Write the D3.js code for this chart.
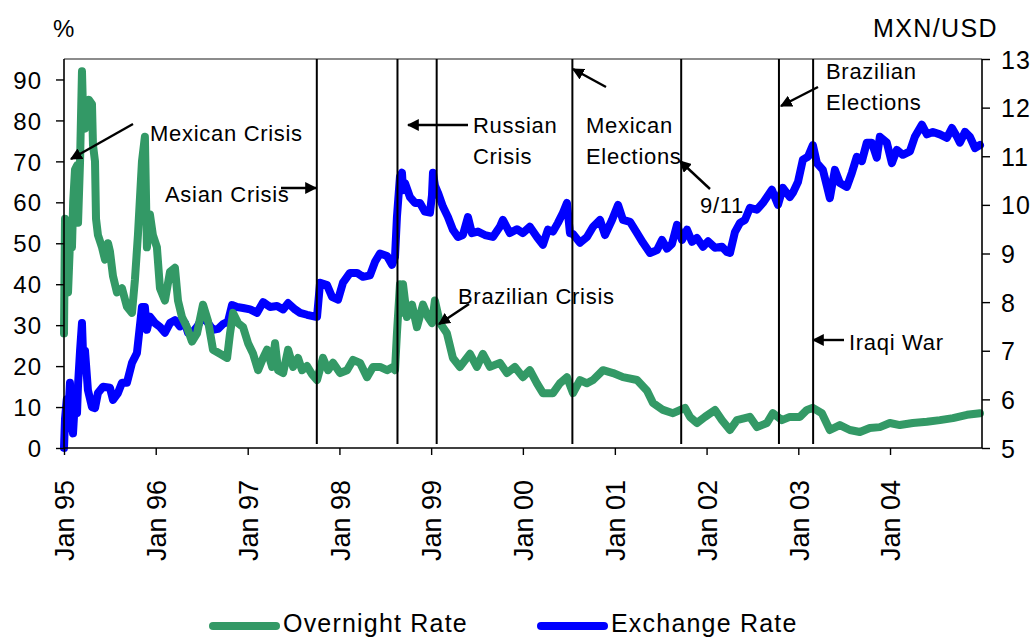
<!DOCTYPE html>
<html><head><meta charset="utf-8">
<script src="https://cdn.jsdelivr.net/npm/d3@7"></script>
<style>
html,body{margin:0;padding:0;background:#fff;}
svg{display:block;font-family:"Liberation Sans",Arial,sans-serif;}
</style></head>
<body><svg id="c" width="1034" height="639"></svg>
<script>
// ---- data (time as decimal year, value) ----
const overnightRate = [
[1995.000,28],[1995.011,56],[1995.030,45],[1995.044,38],[1995.065,50],[1995.087,49],[1995.100,60],[1995.120,68],[1995.142,69],[1995.153,55],[1995.175,70],[1995.196,92],[1995.210,80],[1995.229,78],[1995.250,83],[1995.272,85],[1995.305,84],[1995.316,74],[1995.338,70],[1995.349,56],[1995.370,52],[1995.414,49],[1995.447,46],[1995.480,50],[1995.501,48],[1995.534,42],[1995.577,38],[1995.632,39],[1995.686,34.5],[1995.741,33],[1995.773,41],[1995.806,52],[1995.850,70],[1995.882,76],[1995.904,49],[1995.937,57],[1995.969,52],[1996.013,49],[1996.046,39],[1996.100,36],[1996.155,43],[1996.209,44],[1996.242,36],[1996.285,32],[1996.340,29.5],[1996.394,26],[1996.449,28],[1996.514,35],[1996.569,31],[1996.623,24],[1996.699,23],[1996.776,22],[1996.808,28],[1996.841,33],[1996.895,30.5],[1996.950,29.5],[1997.004,25.6],[1997.059,23],[1997.113,19],[1997.168,22],[1997.211,24],[1997.266,19.8],[1997.298,25.6],[1997.331,19],[1997.386,18.3],[1997.440,24],[1997.495,19.8],[1997.549,22],[1997.593,19],[1997.647,20],[1997.702,18],[1997.756,16.6],[1997.821,22],[1997.876,19],[1997.930,20.8],[1998.007,18.3],[1998.083,19],[1998.148,21.5],[1998.224,20.8],[1998.301,17.3],[1998.366,19.8],[1998.442,19.8],[1998.519,19],[1998.584,19.8],[1998.606,19],[1998.627,28],[1998.660,40],[1998.682,33],[1998.693,40],[1998.736,32],[1998.791,35],[1998.845,29.5],[1998.911,35],[1998.965,32],[1999.009,30.5],[1999.041,36],[1999.096,30.5],[1999.172,28],[1999.237,22],[1999.314,19.8],[1999.423,23],[1999.499,19.8],[1999.564,23],[1999.641,19.8],[1999.749,20.8],[1999.826,18.3],[1999.913,19.8],[2000.000,17.3],[2000.076,19],[2000.153,15.8],[2000.218,13.4],[2000.327,13.4],[2000.403,15.8],[2000.479,17.3],[2000.545,13.4],[2000.621,16.6],[2000.697,15.8],[2000.763,16.6],[2000.839,18.3],[2000.871,19],[2000.980,18.3],[2001.089,17.3],[2001.242,16.6],[2001.351,14],[2001.416,11],[2001.525,9.3],[2001.634,8.5],[2001.765,9.8],[2001.819,7.6],[2001.895,6.1],[2001.983,7.6],[2002.092,9.3],[2002.168,6.8],[2002.255,4.4],[2002.331,6.8],[2002.473,7.6],[2002.549,5.1],[2002.658,6.1],[2002.723,8.5],[2002.821,6.8],[2002.908,7.6],[2003.017,7.6],[2003.094,9.3],[2003.159,9.8],[2003.257,8.5],[2003.344,4.4],[2003.453,5.6],[2003.562,4.4],[2003.671,3.9],[2003.780,4.9],[2003.889,5.1],[2003.998,6.1],[2004.107,5.6],[2004.248,6.1],[2004.401,6.4],[2004.542,6.8],[2004.684,7.3],[2004.837,8.1],[2004.978,8.5]
];
const exchangeRate = [
[1995.000,5.0],[1995.011,5.6],[1995.030,6.0],[1995.044,5.58],[1995.065,6.34],[1995.080,5.5],[1995.098,5.3],[1995.120,6.0],[1995.142,5.72],[1995.153,6.3],[1995.175,7.0],[1995.196,7.57],[1995.210,6.8],[1995.229,7.0],[1995.261,6.19],[1995.305,5.84],[1995.338,5.82],[1995.370,6.13],[1995.425,6.26],[1995.501,6.24],[1995.534,5.99],[1995.588,6.13],[1995.632,6.34],[1995.686,6.34],[1995.741,6.75],[1995.795,6.95],[1995.850,7.9],[1995.882,7.9],[1995.904,7.43],[1995.937,7.7],[1995.991,7.57],[1996.046,7.49],[1996.100,7.37],[1996.155,7.57],[1996.209,7.63],[1996.264,7.5],[1996.318,7.57],[1996.351,7.37],[1996.394,7.37],[1996.449,7.49],[1996.514,7.7],[1996.569,7.57],[1996.623,7.43],[1996.678,7.45],[1996.732,7.55],[1996.786,7.6],[1996.830,7.94],[1996.885,7.9],[1996.950,7.88],[1997.026,7.85],[1997.102,7.78],[1997.168,8.0],[1997.244,7.9],[1997.320,7.92],[1997.386,7.85],[1997.440,7.98],[1997.516,7.85],[1997.571,7.78],[1997.647,7.74],[1997.734,7.7],[1997.756,7.7],[1997.789,8.4],[1997.865,8.35],[1997.919,8.11],[1997.985,8.05],[1998.039,8.4],[1998.115,8.6],[1998.192,8.6],[1998.257,8.52],[1998.333,8.55],[1998.388,8.83],[1998.442,9.0],[1998.519,8.95],[1998.573,8.77],[1998.606,8.93],[1998.627,9.75],[1998.660,10.58],[1998.682,10.66],[1998.693,10.3],[1998.715,10.45],[1998.769,10.16],[1998.824,10.04],[1998.878,10.04],[1998.932,9.86],[1998.987,9.84],[1999.009,10.2],[1999.020,10.66],[1999.041,10.4],[1999.074,10.25],[1999.129,9.96],[1999.183,9.75],[1999.237,9.49],[1999.292,9.34],[1999.346,9.38],[1999.401,9.75],[1999.444,9.42],[1999.510,9.45],[1999.586,9.38],[1999.673,9.34],[1999.749,9.55],[1999.782,9.69],[1999.858,9.42],[1999.935,9.5],[2000.000,9.42],[2000.076,9.55],[2000.153,9.34],[2000.218,9.18],[2000.272,9.49],[2000.327,9.45],[2000.381,9.63],[2000.436,9.84],[2000.479,10.04],[2000.512,9.42],[2000.545,9.4],[2000.621,9.22],[2000.697,9.34],[2000.763,9.55],[2000.839,9.69],[2000.893,9.38],[2000.969,9.69],[2001.035,10.0],[2001.089,9.69],[2001.166,9.65],[2001.242,9.42],[2001.307,9.22],[2001.383,9.01],[2001.460,9.07],[2001.514,9.28],[2001.569,9.1],[2001.623,9.2],[2001.678,9.59],[2001.732,9.28],[2001.787,9.49],[2001.841,9.24],[2001.895,9.32],[2001.961,9.14],[2002.015,9.25],[2002.092,9.12],[2002.168,9.14],[2002.222,9.03],[2002.255,9.01],[2002.309,9.44],[2002.364,9.63],[2002.418,9.69],[2002.473,9.94],[2002.549,9.9],[2002.614,10.04],[2002.712,10.31],[2002.778,10.0],[2002.832,10.35],[2002.908,10.16],[2002.941,10.25],[2002.996,10.47],[2003.050,10.93],[2003.105,10.99],[2003.159,11.23],[2003.203,10.86],[2003.268,10.72],[2003.344,10.14],[2003.399,10.72],[2003.453,10.45],[2003.529,10.37],[2003.584,10.66],[2003.638,10.99],[2003.693,10.9],[2003.747,11.28],[2003.802,11.28],[2003.856,10.97],[2003.889,11.4],[2003.965,11.28],[2004.020,10.86],[2004.074,11.13],[2004.139,11.03],[2004.216,11.1],[2004.270,11.4],[2004.346,11.65],[2004.401,11.45],[2004.466,11.5],[2004.542,11.45],[2004.619,11.38],[2004.673,11.58],[2004.728,11.4],[2004.760,11.28],[2004.815,11.5],[2004.869,11.4],[2004.924,11.17],[2004.978,11.23]
];
const eventDates = ["1997-10-03","1998-08-20","1999-01-23","2000-07-16","2001-09-22","2002-10-16","2003-03-01"];
const leftTicks = [0,10,20,30,40,50,60,70,80,90];
const rightTicks = [5,6,7,8,9,10,11,12,13];
const tickYears = [1995,1996,1997,1998,1999,2000,2001,2002,2003,2004];
const seriesNames = ["Overnight Rate","Exchange Rate"];
const seriesColors = ["#339966","#0000ff"];
const annotations = [
  {lines:["Mexican Crisis"], x:150, y:141, from:[133,124], to:[71,159]},
  {lines:["Asian Crisis"], x:165, y:202, from:[281,188], to:[316,188]},
  {lines:["Russian","Crisis"], x:473, y:133, from:[468,125], to:[408,125]},
  {lines:["Mexican","Elections"], x:586, y:133, from:[606,87], to:[573,69]},
  {lines:["9/11"], x:700, y:213, from:[710,189], to:[680,161]},
  {lines:["Brazilian","Elections"], x:826, y:79, from:[818,87], to:[781,106]},
  {lines:["Brazilian Crisis"], x:458, y:304, from:[469,304], to:[439,324]},
  {lines:["Iraqi War"], x:849, y:350, from:[844,340], to:[813,340]}
];

// ---- helpers ----
function toDate(t){const y=Math.floor(t);const a=new Date(y,0,1),b=new Date(y+1,0,1);return new Date(+a+(t-y)*(b-a));}
const parse = d3.timeParse("%Y-%m-%d");

const svg = d3.select("#c");
const L=64, R=982, T=59, B=448;
const x = d3.scaleTime().domain([new Date(1995,0,1), new Date(2005,0,1)]).range([L,R]);
const yL = d3.scaleLinear().domain([0,95]).range([B,T]);
const yR = d3.scaleLinear().domain([5,13]).range([B,T]);

// plot border top
svg.append("line").attr("x1",L).attr("x2",R).attr("y1",T).attr("y2",T).attr("stroke","#8c8c8c").attr("stroke-width",2);

// series
const lineR = d3.line().x(d=>x(toDate(d[0]))).y(d=>yR(d[1])).curve(d3.curveLinear);
const lineL = d3.line().x(d=>x(toDate(d[0]))).y(d=>yL(d[1])).curve(d3.curveLinear);
svg.append("path").datum(exchangeRate).attr("d",lineR).attr("fill","none").attr("stroke",seriesColors[1])
  .attr("stroke-width",8).attr("stroke-linejoin","round").attr("stroke-linecap","round");
svg.append("path").datum(overnightRate).attr("d",lineL).attr("fill","none").attr("stroke",seriesColors[0])
  .attr("stroke-width",8).attr("stroke-linejoin","round").attr("stroke-linecap","round");

// event lines
svg.selectAll(".ev").data(eventDates).enter().append("line")
  .attr("x1",d=>x(parse(d))).attr("x2",d=>x(parse(d)))
  .attr("y1",T).attr("y2",444).attr("stroke","#000").attr("stroke-width",2);

// axes
const fontAxis = g=>g.selectAll("text").attr("fill","#000").attr("font-family","Liberation Sans, Arial, sans-serif");
const axL = svg.append("g").attr("transform",`translate(${L},0)`)
  .call(d3.axisLeft(yL).tickValues(leftTicks).tickSize(8).tickPadding(14).tickFormat(d3.format("d")));
axL.selectAll("text").attr("font-size",24).attr("dy","0.36em").style("letter-spacing","1px");
const axR = svg.append("g").attr("transform",`translate(${R},0)`)
  .call(d3.axisRight(yR).tickValues(rightTicks).tickSize(8).tickPadding(11).tickFormat(d3.format("d")));
axR.selectAll("text").attr("font-size",25).attr("dy","0.36em").style("letter-spacing","1px");
const axB = svg.append("g").attr("transform",`translate(0,${B})`)
  .call(d3.axisBottom(x).tickValues(tickYears.map(y=>new Date(y,0,1))).tickSize(7).tickFormat(d=>"Jan "+d3.timeFormat("%y")(d)));
axB.selectAll("text").attr("font-size",27).attr("transform","rotate(-90)")
  .attr("text-anchor","end").attr("x",-32).attr("y",0).attr("dy","0.36em");
[axL,axR,axB].forEach(g=>{fontAxis(g);g.select(".domain").attr("stroke","#000").attr("stroke-width",1.6);g.selectAll(".tick line").attr("stroke","#000").attr("stroke-width",1.4);});
axB.select(".domain").attr("d",`M${L},0H${R}`);
axL.select(".domain").attr("d",`M0,${B}V${T}`);
axR.select(".domain").attr("d",`M0,${B}V${T}`);

// axis titles
svg.append("text").attr("x",53).attr("y",37).attr("font-size",24).text("%");
svg.append("text").attr("x",998).attr("y",37).attr("font-size",25).attr("text-anchor","end").style("letter-spacing","1.4px").text("MXN/USD");

// annotations
svg.append("defs").append("marker").attr("id","ah").attr("viewBox","0 0 10 10").attr("refX",9).attr("refY",5)
  .attr("markerWidth",5).attr("markerHeight",5).attr("markerUnits","strokeWidth").attr("orient","auto")
  .append("path").attr("d","M0,0L10,5L0,10Z").attr("fill","#000");
annotations.forEach(a=>{
  svg.append("line").attr("x1",a.from[0]).attr("y1",a.from[1]).attr("x2",a.to[0]).attr("y2",a.to[1])
    .attr("stroke","#000").attr("stroke-width",2.4).attr("marker-end","url(#ah)");
  a.lines.forEach((s,i)=>svg.append("text").attr("x",a.x).attr("y",a.y+i*31).attr("font-size",22)
    .style("letter-spacing","0.7px").attr("fill","#000").text(s));
});

// legend
const leg = [{x:213,tx:283},{x:541,tx:611}];
seriesNames.forEach((n,i)=>{
  svg.append("line").attr("x1",leg[i].x).attr("x2",leg[i].x+63).attr("y1",626).attr("y2",626)
    .attr("stroke",seriesColors[i]).attr("stroke-width",8).attr("stroke-linecap","round");
  svg.append("text").attr("x",leg[i].tx).attr("y",632).attr("font-size",25).style("letter-spacing","1.2px").text(n);
});
</script></body></html>
